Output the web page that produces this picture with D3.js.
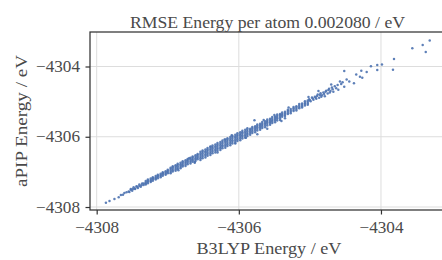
<!DOCTYPE html>
<html><head><meta charset="utf-8">
<script src="https://cdn.jsdelivr.net/npm/d3@7"></script>
<style>html,body{margin:0;padding:0;background:#fff;overflow:hidden}</style>
</head><body>
<svg id="chart" width="442" height="260"></svg>
<script>
// ---- data ----
const title = "RMSE Energy per atom 0.002080 / eV";
const xLabel = "B3LYP Energy / eV";
const yLabel = "aPIP Energy / eV";
const xTicks = [-4308, -4306, -4304];
const yTicks = [-4308, -4306, -4304];
const xDomain = [-4308.094, -4303.085];
const yDomain = [-4308.085, -4303.018];

// [B3LYP, aPIP] pairs
const tail = [[-4307.87,-4307.88],[-4307.82,-4307.83],[-4307.75,-4307.77],[-4307.69,-4307.72],[-4307.66,-4307.66],[-4307.63,-4307.65],[-4307.61,-4307.60]];
const bandLow = [
[-4307.58,-4307.58],[-4307.55,-4307.56],[-4307.52,-4307.51],[-4307.49,-4307.49],[-4307.46,-4307.47],[-4307.43,-4307.42],[-4307.40,-4307.40],[-4307.37,-4307.38],[-4307.34,-4307.33],
[-4307.54,-4307.57],[-4307.50,-4307.54],[-4307.46,-4307.49],[-4307.42,-4307.46],[-4307.38,-4307.42],[-4307.34,-4307.37],
[-4307.52,-4307.49],[-4307.48,-4307.44],[-4307.44,-4307.41],[-4307.40,-4307.36],[-4307.36,-4307.33],
[-4307.31,-4307.36],[-4307.31,-4307.33],[-4307.31,-4307.30],[-4307.31,-4307.26],
[-4307.28,-4307.32],[-4307.28,-4307.28],[-4307.28,-4307.25],[-4307.28,-4307.22],
[-4307.24,-4307.29],[-4307.24,-4307.26],[-4307.24,-4307.23],[-4307.24,-4307.19],
[-4307.21,-4307.25],[-4307.21,-4307.21],[-4307.21,-4307.18],[-4307.21,-4307.15],
[-4307.17,-4307.22],[-4307.17,-4307.19],[-4307.17,-4307.16],[-4307.17,-4307.12],
[-4307.14,-4307.18],[-4307.14,-4307.14],[-4307.14,-4307.11],[-4307.14,-4307.08],
[-4307.10,-4307.15],[-4307.10,-4307.12],[-4307.10,-4307.09],[-4307.10,-4307.05],
[-4307.07,-4307.11],[-4307.07,-4307.07],[-4307.07,-4307.04],[-4307.07,-4307.01],
[-4307.03,-4307.08],[-4307.03,-4307.05],[-4307.03,-4307.02],[-4307.03,-4306.98],
[-4307.00,-4307.04],[-4307.00,-4307.00],[-4307.00,-4306.97],[-4307.00,-4306.94]
];
const bandMid = [
[-4306.96,-4307.04],[-4306.96,-4307.00],[-4306.96,-4306.96],[-4306.96,-4306.92],[-4306.96,-4306.88],
[-4306.93,-4306.99],[-4306.93,-4306.95],[-4306.93,-4306.91],[-4306.93,-4306.87],[-4306.93,-4306.84],
[-4306.89,-4306.97],[-4306.89,-4306.93],[-4306.89,-4306.89],[-4306.89,-4306.85],[-4306.89,-4306.81],
[-4306.86,-4306.92],[-4306.86,-4306.88],[-4306.86,-4306.84],[-4306.86,-4306.80],[-4306.86,-4306.77],
[-4306.82,-4306.90],[-4306.82,-4306.86],[-4306.82,-4306.82],[-4306.82,-4306.78],[-4306.82,-4306.74],
[-4306.79,-4306.85],[-4306.79,-4306.81],[-4306.79,-4306.77],[-4306.79,-4306.73],[-4306.79,-4306.70],
[-4306.75,-4306.83],[-4306.75,-4306.79],[-4306.75,-4306.75],[-4306.75,-4306.71],[-4306.75,-4306.67],
[-4306.72,-4306.78],[-4306.72,-4306.74],[-4306.72,-4306.70],[-4306.72,-4306.66],[-4306.72,-4306.63],
[-4306.68,-4306.76],[-4306.68,-4306.72],[-4306.68,-4306.68],[-4306.68,-4306.64],[-4306.68,-4306.60],
[-4306.65,-4306.71],[-4306.65,-4306.67],[-4306.65,-4306.63],[-4306.65,-4306.59],[-4306.65,-4306.56],
[-4306.61,-4306.69],[-4306.61,-4306.65],[-4306.61,-4306.61],[-4306.61,-4306.57],[-4306.61,-4306.53],
[-4306.58,-4306.64],[-4306.58,-4306.60],[-4306.58,-4306.56],[-4306.58,-4306.52],[-4306.58,-4306.49],
[-4306.85,-4306.95],[-4306.62,-4306.74],[-4306.70,-4306.61]
];
const bandPeak = [
[-4306.54,-4306.66],[-4306.54,-4306.61],[-4306.54,-4306.57],[-4306.54,-4306.52],[-4306.54,-4306.48],[-4306.54,-4306.43],
[-4306.51,-4306.61],[-4306.51,-4306.56],[-4306.51,-4306.52],[-4306.51,-4306.47],[-4306.51,-4306.43],[-4306.51,-4306.39],
[-4306.47,-4306.59],[-4306.47,-4306.54],[-4306.47,-4306.50],[-4306.47,-4306.45],[-4306.47,-4306.41],[-4306.47,-4306.36],
[-4306.44,-4306.54],[-4306.44,-4306.49],[-4306.44,-4306.45],[-4306.44,-4306.40],[-4306.44,-4306.36],[-4306.44,-4306.32],
[-4306.40,-4306.52],[-4306.40,-4306.47],[-4306.40,-4306.43],[-4306.40,-4306.38],[-4306.40,-4306.34],[-4306.40,-4306.29],
[-4306.37,-4306.47],[-4306.37,-4306.42],[-4306.37,-4306.38],[-4306.37,-4306.33],[-4306.37,-4306.29],[-4306.37,-4306.25],
[-4306.33,-4306.45],[-4306.33,-4306.40],[-4306.33,-4306.36],[-4306.33,-4306.31],[-4306.33,-4306.27],[-4306.33,-4306.22],
[-4306.30,-4306.40],[-4306.30,-4306.35],[-4306.30,-4306.31],[-4306.30,-4306.26],[-4306.30,-4306.22],[-4306.30,-4306.18],
[-4306.26,-4306.38],[-4306.26,-4306.33],[-4306.26,-4306.29],[-4306.26,-4306.24],[-4306.26,-4306.20],[-4306.26,-4306.15],
[-4306.23,-4306.33],[-4306.23,-4306.28],[-4306.23,-4306.24],[-4306.23,-4306.19],[-4306.23,-4306.15],[-4306.23,-4306.11],
[-4306.19,-4306.31],[-4306.19,-4306.26],[-4306.19,-4306.22],[-4306.19,-4306.17],[-4306.19,-4306.13],[-4306.19,-4306.08],
[-4306.16,-4306.26],[-4306.16,-4306.21],[-4306.16,-4306.17],[-4306.16,-4306.12],[-4306.16,-4306.08],[-4306.16,-4306.04],
[-4306.12,-4306.24],[-4306.12,-4306.19],[-4306.12,-4306.15],[-4306.12,-4306.10],[-4306.12,-4306.06],[-4306.12,-4306.01],
[-4306.09,-4306.19],[-4306.09,-4306.14],[-4306.09,-4306.10],[-4306.09,-4306.05],[-4306.09,-4306.01],[-4306.09,-4305.97],
[-4306.05,-4306.17],[-4306.05,-4306.12],[-4306.05,-4306.08],[-4306.05,-4306.03],[-4306.05,-4305.99],[-4306.05,-4305.94],
[-4306.02,-4306.12],[-4306.02,-4306.07],[-4306.02,-4306.03],[-4306.02,-4305.98],[-4306.02,-4305.94],[-4306.02,-4305.90],
[-4305.98,-4306.10],[-4305.98,-4306.05],[-4305.98,-4306.01],[-4305.98,-4305.96],[-4305.98,-4305.92],[-4305.98,-4305.87],
[-4305.95,-4306.05],[-4305.95,-4306.00],[-4305.95,-4305.96],[-4305.95,-4305.91],[-4305.95,-4305.87],[-4305.95,-4305.83],
[-4305.91,-4306.03],[-4305.91,-4305.98],[-4305.91,-4305.94],[-4305.91,-4305.89],[-4305.91,-4305.85],[-4305.91,-4305.80],
[-4305.88,-4305.98],[-4305.88,-4305.93],[-4305.88,-4305.89],[-4305.88,-4305.84],[-4305.88,-4305.80],[-4305.88,-4305.76],
[-4306.10,-4305.96],[-4306.30,-4306.45],[-4306.05,-4306.19],[-4306.20,-4306.08],[-4305.90,-4306.03],[-4306.40,-4306.28],[-4306.62,-4306.72]
];
const bandHigh = [
[-4305.84,-4305.94],[-4305.84,-4305.89],[-4305.84,-4305.85],[-4305.84,-4305.81],[-4305.84,-4305.77],
[-4305.81,-4305.89],[-4305.81,-4305.84],[-4305.81,-4305.80],[-4305.81,-4305.76],[-4305.81,-4305.72],
[-4305.77,-4305.87],[-4305.77,-4305.82],[-4305.77,-4305.78],[-4305.77,-4305.74],[-4305.77,-4305.70],
[-4305.74,-4305.82],[-4305.74,-4305.77],[-4305.74,-4305.73],[-4305.74,-4305.69],[-4305.74,-4305.65],
[-4305.70,-4305.80],[-4305.70,-4305.75],[-4305.70,-4305.71],[-4305.70,-4305.67],[-4305.70,-4305.63],
[-4305.67,-4305.75],[-4305.67,-4305.70],[-4305.67,-4305.66],[-4305.67,-4305.62],[-4305.67,-4305.58],
[-4305.63,-4305.73],[-4305.63,-4305.68],[-4305.63,-4305.64],[-4305.63,-4305.60],[-4305.63,-4305.56],
[-4305.60,-4305.68],[-4305.60,-4305.63],[-4305.60,-4305.59],[-4305.60,-4305.55],[-4305.60,-4305.51],
[-4305.56,-4305.66],[-4305.56,-4305.61],[-4305.56,-4305.57],[-4305.56,-4305.53],[-4305.56,-4305.49],
[-4305.53,-4305.61],[-4305.53,-4305.56],[-4305.53,-4305.52],[-4305.53,-4305.48],[-4305.53,-4305.44],
[-4305.49,-4305.59],[-4305.49,-4305.54],[-4305.49,-4305.50],[-4305.49,-4305.46],[-4305.49,-4305.42],
[-4305.46,-4305.54],[-4305.46,-4305.49],[-4305.46,-4305.45],[-4305.46,-4305.41],[-4305.46,-4305.37],
[-4305.42,-4305.52],[-4305.42,-4305.47],[-4305.42,-4305.43],[-4305.42,-4305.39],[-4305.42,-4305.35],
[-4305.39,-4305.43],[-4305.39,-4305.39],[-4305.39,-4305.35],[-4305.39,-4305.31],
[-4305.35,-4305.41],[-4305.35,-4305.37],[-4305.35,-4305.33],[-4305.35,-4305.29],
[-4305.31,-4305.35],[-4305.31,-4305.31],[-4305.31,-4305.27],[-4305.31,-4305.23],
[-4305.27,-4305.33],[-4305.27,-4305.29],[-4305.27,-4305.25],[-4305.27,-4305.21],
[-4305.23,-4305.27],[-4305.23,-4305.23],[-4305.23,-4305.19],[-4305.23,-4305.15],
[-4305.19,-4305.25],[-4305.19,-4305.21],[-4305.19,-4305.17],[-4305.19,-4305.13],
[-4305.15,-4305.19],[-4305.15,-4305.15],[-4305.15,-4305.11],[-4305.15,-4305.07],
[-4305.11,-4305.17],[-4305.11,-4305.13],[-4305.11,-4305.09],[-4305.11,-4305.05],
[-4305.07,-4305.11],[-4305.07,-4305.07],[-4305.07,-4305.03],[-4305.07,-4304.99],
[-4305.03,-4305.09],[-4305.03,-4305.05],[-4305.03,-4305.01],[-4305.03,-4304.97],
[-4305.74,-4305.93],[-4305.60,-4305.77],[-4305.78,-4305.53],[-4305.50,-4305.38],[-4305.40,-4305.55],[-4305.30,-4305.17],[-4305.65,-4305.52],[-4305.35,-4305.47]
];
const bandTop = [
[-4305.01,-4304.93],[-4304.99,-4304.99],[-4304.97,-4304.88],[-4304.95,-4304.95],[-4304.93,-4304.86],[-4304.91,-4304.92],[-4304.89,-4304.80],[-4304.87,-4304.89],[-4304.85,-4304.76],[-4304.83,-4304.82],[-4304.81,-4304.74],[-4304.79,-4304.85],[-4304.77,-4304.69],[-4304.75,-4304.77],[-4304.73,-4304.63],[-4304.71,-4304.70],[-4304.69,-4304.60],[-4304.67,-4304.72],[-4304.65,-4304.56],[-4304.63,-4304.62],[-4304.61,-4304.53],[-4304.60,-4304.66],[-4304.56,-4304.50],[-4304.54,-4304.45],[-4304.70,-4304.51],[-4304.88,-4304.70],[-4305.02,-4304.87],
[-4305.00,-4304.96],[-4304.96,-4304.91],[-4304.92,-4304.89],[-4304.90,-4304.84],[-4304.86,-4304.81],[-4304.84,-4304.86],[-4304.80,-4304.78],[-4304.78,-4304.72],[-4304.74,-4304.67],[-4304.72,-4304.74],[-4304.68,-4304.65]
];
const sparse = [
[-4303.559,-4303.48],[-4303.413,-4303.39],[-4303.314,-4303.26],[-4303.370,-4303.59],[-4303.817,-4303.79],[-4303.831,-4304.09],[-4303.986,-4303.94],[-4304.052,-4303.96],[-4304.052,-4304.10],[-4304.141,-4303.99],[-4304.201,-4304.16],[-4304.277,-4304.12],[-4304.348,-4304.23],[-4304.517,-4304.13],[-4304.296,-4304.29],[-4304.263,-4304.32],[-4304.483,-4304.37],[-4304.446,-4304.43],[-4304.380,-4304.48],[-4304.577,-4304.43],[-4304.517,-4304.58]
];

// ---- drawing ----
const svg = d3.select("#chart");
const L = 90, R = 446, T = 32, B = 210;
const x = d3.scaleLinear().domain(xDomain).range([L, R]);
const y = d3.scaleLinear().domain(yDomain).range([B, T]);
const font = "'Liberation Serif', 'Times New Roman', serif";
const txt = "#4a4a4a", dark = "#333333", gridC = "#dddddd";
const fmt = d => "\u2212" + Math.abs(d);

const g = svg.append("g");
// grid
g.selectAll(".gx").data(xTicks).enter().append("line")
  .attr("x1", d => x(d)).attr("x2", d => x(d)).attr("y1", T).attr("y2", B)
  .attr("stroke", gridC).attr("stroke-width", 1);
g.selectAll(".gy").data(yTicks).enter().append("line")
  .attr("y1", d => y(d)).attr("y2", d => y(d)).attr("x1", L).attr("x2", R)
  .attr("stroke", gridC).attr("stroke-width", 1);

// points
const all = [].concat(tail, bandLow, bandMid, bandPeak, bandHigh, bandTop, sparse);
g.append("g").selectAll("circle").data(all).enter().append("circle")
  .attr("cx", d => x(d[0])).attr("cy", d => y(d[1])).attr("r", 1.25)
  .attr("fill", "#4c72b0").attr("fill-opacity", 0.9);

// axes via d3
const xAxis = d3.axisBottom(x).tickValues(xTicks).tickFormat(fmt).tickSizeOuter(0).tickSize(4.5).tickPadding(8);
const yAxis = d3.axisLeft(y).tickValues(yTicks).tickFormat(fmt).tickSizeOuter(0).tickSize(4.5).tickPadding(5);
const xa = svg.append("g").attr("transform", `translate(0,${B})`).call(xAxis);
const ya = svg.append("g").attr("transform", `translate(${L},0)`).call(yAxis);
[xa, ya].forEach(a => {
  a.select(".domain").remove();
  a.selectAll(".tick line").attr("stroke", dark).attr("stroke-width", 1.2);
  a.selectAll(".tick text").attr("fill", txt).attr("font-family", font).attr("font-size", 16)
    .attr("textLength", 44).attr("lengthAdjust", "spacingAndGlyphs");
});
xa.selectAll(".tick text").attr("dy", null).attr("y", 23);
ya.selectAll(".tick text").attr("dy", null).attr("y", 5).attr("x", -10);

// spines
svg.append("rect").attr("x", L).attr("y", T).attr("width", R - L).attr("height", B - T)
  .attr("fill", "none").attr("stroke", dark).attr("stroke-width", 1.25);

// labels
svg.append("text").attr("x", 267.5).attr("y", 28).attr("text-anchor", "middle")
  .attr("font-family", font).attr("font-size", 16.5).attr("fill", txt)
  .attr("textLength", 275).attr("lengthAdjust", "spacingAndGlyphs").text(title);
svg.append("text").attr("x", 269).attr("y", 254).attr("text-anchor", "middle")
  .attr("font-family", font).attr("font-size", 16.5).attr("fill", txt)
  .attr("textLength", 145).attr("lengthAdjust", "spacingAndGlyphs").text(xLabel);
svg.append("text").attr("transform", "translate(26.5,121) rotate(-90)").attr("text-anchor", "middle")
  .attr("font-family", font).attr("font-size", 16.5).attr("fill", txt)
  .attr("textLength", 132).attr("lengthAdjust", "spacingAndGlyphs").text(yLabel);
</script>
</body></html>
